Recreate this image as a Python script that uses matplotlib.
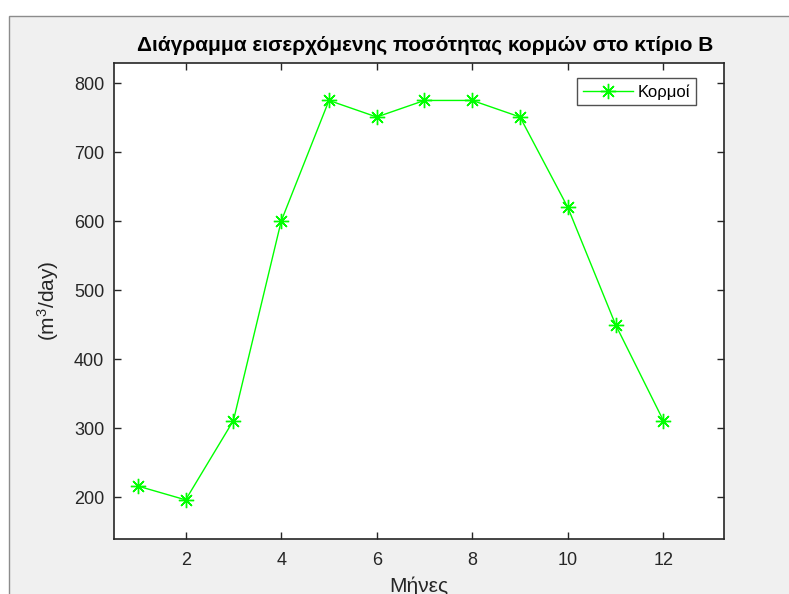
import numpy as np
import matplotlib
matplotlib.use("Agg")
import matplotlib.pyplot as plt
from matplotlib.patches import Rectangle

plt.rcParams['font.family'] = ['Liberation Sans', 'DejaVu Sans']
plt.rcParams['mathtext.fontset'] = 'custom'
plt.rcParams['mathtext.rm'] = 'Liberation Sans'
plt.rcParams['mathtext.it'] = 'Liberation Sans'

# monthly incoming log volume, building B
months = [1, 2, 3, 4, 5, 6, 7, 8, 9, 10, 11, 12]
logs = [216, 196, 311, 600, 775, 751, 775, 775, 751, 620, 450, 311]
xticks = [2, 4, 6, 8, 10, 12]
yticks = [200, 300, 400, 500, 600, 700, 800]

title = "Διάγραμμα εισερχόμενης ποσότητας κορμών στο κτίριο Β"
xlabel = "Μήνες"
ylabel = "(m$^3$/day)"
series_name = "Κορμοί"

dark = "#262626"
fig = plt.figure(figsize=(7.89, 5.94), dpi=100, facecolor="white")

# grey window panel behind the axes
W, H = 789, 594
bg = fig.add_axes([0, 0, 1, 1], zorder=-10)
bg.set_axis_off()
bg.set_xlim(0, W)
bg.set_ylim(H, 0)
bg.add_patch(Rectangle((9, 16), W, H, facecolor="#f0f0f0", edgecolor="#8c8c8c",
                       linewidth=1.0))

ax = fig.add_axes([114 / W, (H - 538.5) / H, (724 - 114) / W, (538.5 - 62.5) / H])
ax.set_facecolor("white")

asterisk = (8, 2, 0)
ax.plot(months, logs, color="#00ff00", linewidth=1.0, marker=asterisk,
        markersize=11, markeredgewidth=1.0, label=series_name)

ax.set_xlim(0.5, 13.27)
ax.set_ylim(140, 830)
ax.set_xticks(xticks)
ax.set_yticks(yticks)

for s in ax.spines.values():
    s.set_color(dark)
    s.set_linewidth(1.2)
ax.tick_params(direction="in", length=5, width=1.0, colors=dark, labelsize=13,
               top=True, right=True)
ax.tick_params(axis="y", pad=7)
ax.tick_params(axis="x", pad=10)

ax.set_title(title, fontsize=15, fontweight="bold", color="black", pad=8, x=0.51)
ax.set_xlabel(xlabel, fontsize=15, color=dark, labelpad=5)
ax.set_ylabel(ylabel, fontsize=15, color=dark, labelpad=9)

leg = ax.legend(loc="upper right", bbox_to_anchor=(0.954, 0.967), borderaxespad=0,
                fontsize=12, frameon=True, fancybox=False, edgecolor=dark,
                handlelength=3.0, borderpad=0.35, handletextpad=0.3)
leg.get_frame().set_linewidth(1.0)

fig.savefig("out.png", dpi=100, facecolor="white")
